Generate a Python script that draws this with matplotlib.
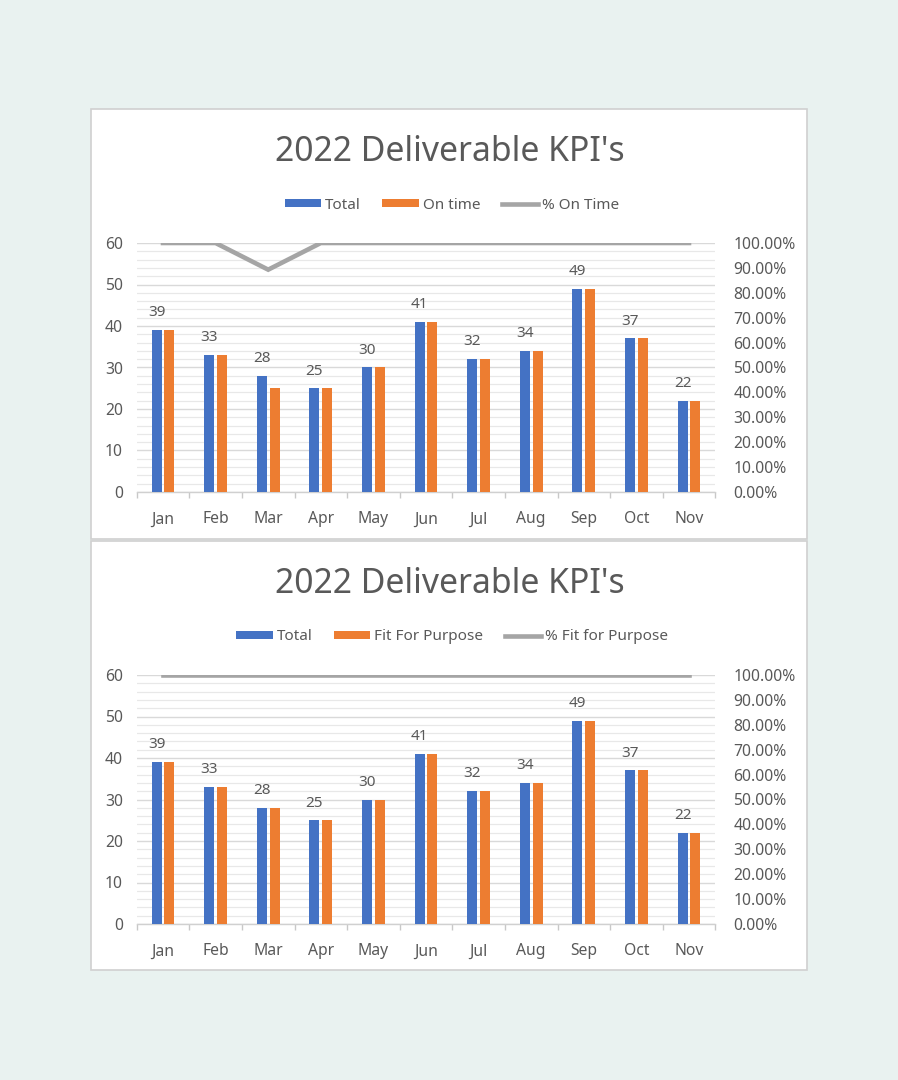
import matplotlib
matplotlib.use("Agg")
import matplotlib.pyplot as plt
import numpy as np
from matplotlib.patches import Rectangle, Patch
from matplotlib.lines import Line2D
from matplotlib.ticker import MultipleLocator, FuncFormatter

# Dati
months = ["Jan", "Feb", "Mar", "Apr", "May", "Jun", "Jul", "Aug", "Sep", "Oct", "Nov"]
total = [39, 33, 28, 25, 30, 41, 32, 34, 49, 37, 22]
on_time = [39, 33, 25, 25, 30, 41, 32, 34, 49, 37, 22]
pct_on_time = [100, 100, 89.29, 100, 100, 100, 100, 100, 100, 100, 100]
fit_purpose = [39, 33, 28, 25, 30, 41, 32, 34, 49, 37, 22]
pct_fit_purpose = [100, 100, 100, 100, 100, 100, 100, 100, 100, 100, 100]

title = "2022 Deliverable KPI's"

BLUE = "#4472c4"
ORANGE = "#ed7d31"
GRAY = "#a5a5a5"
TEXT = "#595959"
BG = "#e9f2f0"

plt.rcParams['font.family'] = ['Noto Sans', 'DejaVu Sans']

W, H = 898, 1080
fig = plt.figure(figsize=(W / 100, H / 100), dpi=100)
fig.patch.set_facecolor(BG)


def fx(px):
    return px / W


def fy(py):
    return 1 - py / H


def draw_panel(top, bottom, second, pct, names):
    # riquadro bianco del grafico
    fig.add_artist(Rectangle((fx(91), fy(bottom)), fx(807) - fx(91), fy(top) - fy(bottom),
                             transform=fig.transFigure, facecolor="white",
                             edgecolor="#d0d0d0", linewidth=1.2, zorder=0))

    plot_top = top + 134
    plot_bot = top + 383
    ax = fig.add_axes([fx(136.7), fy(plot_bot), fx(715.3) - fx(136.7), fy(plot_top) - fy(plot_bot)])
    ax.set_facecolor("none")
    x = np.arange(len(months))
    w = 0.19
    off = 0.123
    ax.bar(x - off, total, w, color=BLUE, zorder=3)
    ax.bar(x + off, second, w, color=ORANGE, zorder=3)
    for xi, v in zip(x, total):
        ax.annotate(str(v), (xi - off, v), xytext=(0, 7), textcoords="offset points",
                    ha="center", va="bottom", fontsize=11, color=TEXT)

    ax.set_xlim(-0.5, len(months) - 0.5)
    ax.set_ylim(0, 60)
    ax.yaxis.set_major_locator(MultipleLocator(10))
    ax.yaxis.set_minor_locator(MultipleLocator(2))
    ax.grid(axis="y", which="major", color="#d9d9d9", linewidth=1.0)
    ax.grid(axis="y", which="minor", color="#e8e8e8", linewidth=0.9)
    ax.set_axisbelow(True)
    for s in ["top", "right", "left"]:
        ax.spines[s].set_visible(False)
    ax.spines["bottom"].set_color("#d0d0d0")
    ax.spines["bottom"].set_linewidth(1.0)
    ax.set_xticks(x)
    ax.set_xticklabels(months)
    ax.set_xticks(np.arange(-0.5, len(months)), minor=True)
    ax.tick_params(axis="x", which="major", length=0, pad=14, labelsize=11.3, labelcolor=TEXT)
    ax.tick_params(axis="x", which="minor", length=4, color="#c8c8c8", width=1)
    ax.tick_params(axis="y", which="both", length=0, pad=10, labelsize=11.3, labelcolor=TEXT)

    ax2 = ax.twinx()
    ax2.plot(x, np.array(pct) / 100, color=GRAY, linewidth=3.3, solid_joinstyle="miter", zorder=4)
    ax2.set_ylim(0, 1)
    ax2.yaxis.set_major_locator(MultipleLocator(0.1))
    ax2.yaxis.set_major_formatter(FuncFormatter(lambda v, p: f"{v * 100:.2f}%"))
    ax2.tick_params(axis="y", length=0, pad=13, labelsize=11.3, labelcolor=TEXT)
    for s in ["top", "right", "left", "bottom"]:
        ax2.spines[s].set_visible(False)

    fig.text(fx(450), fy(top + 43), title, ha="center", va="center", fontsize=24.3, color=TEXT)

    handles = [Patch(facecolor=BLUE, edgecolor="none"),
               Patch(facecolor=ORANGE, edgecolor="none"),
               Line2D([0], [0], color=GRAY, linewidth=3.3)]
    fig.legend(handles, names, loc="center", bbox_to_anchor=(fx(452), fy(top + 96)), ncol=3,
               frameon=False, fontsize=11, labelcolor=TEXT, handlelength=2.4, handleheight=0.45,
               handletextpad=0.25, columnspacing=1.4)


draw_panel(109, 539, on_time, pct_on_time, ["Total", "On time", "% On Time"])
draw_panel(541, 970, fit_purpose, pct_fit_purpose, ["Total", "Fit For Purpose", "% Fit for Purpose"])

plt.savefig("out.png", dpi=100, facecolor=BG)
